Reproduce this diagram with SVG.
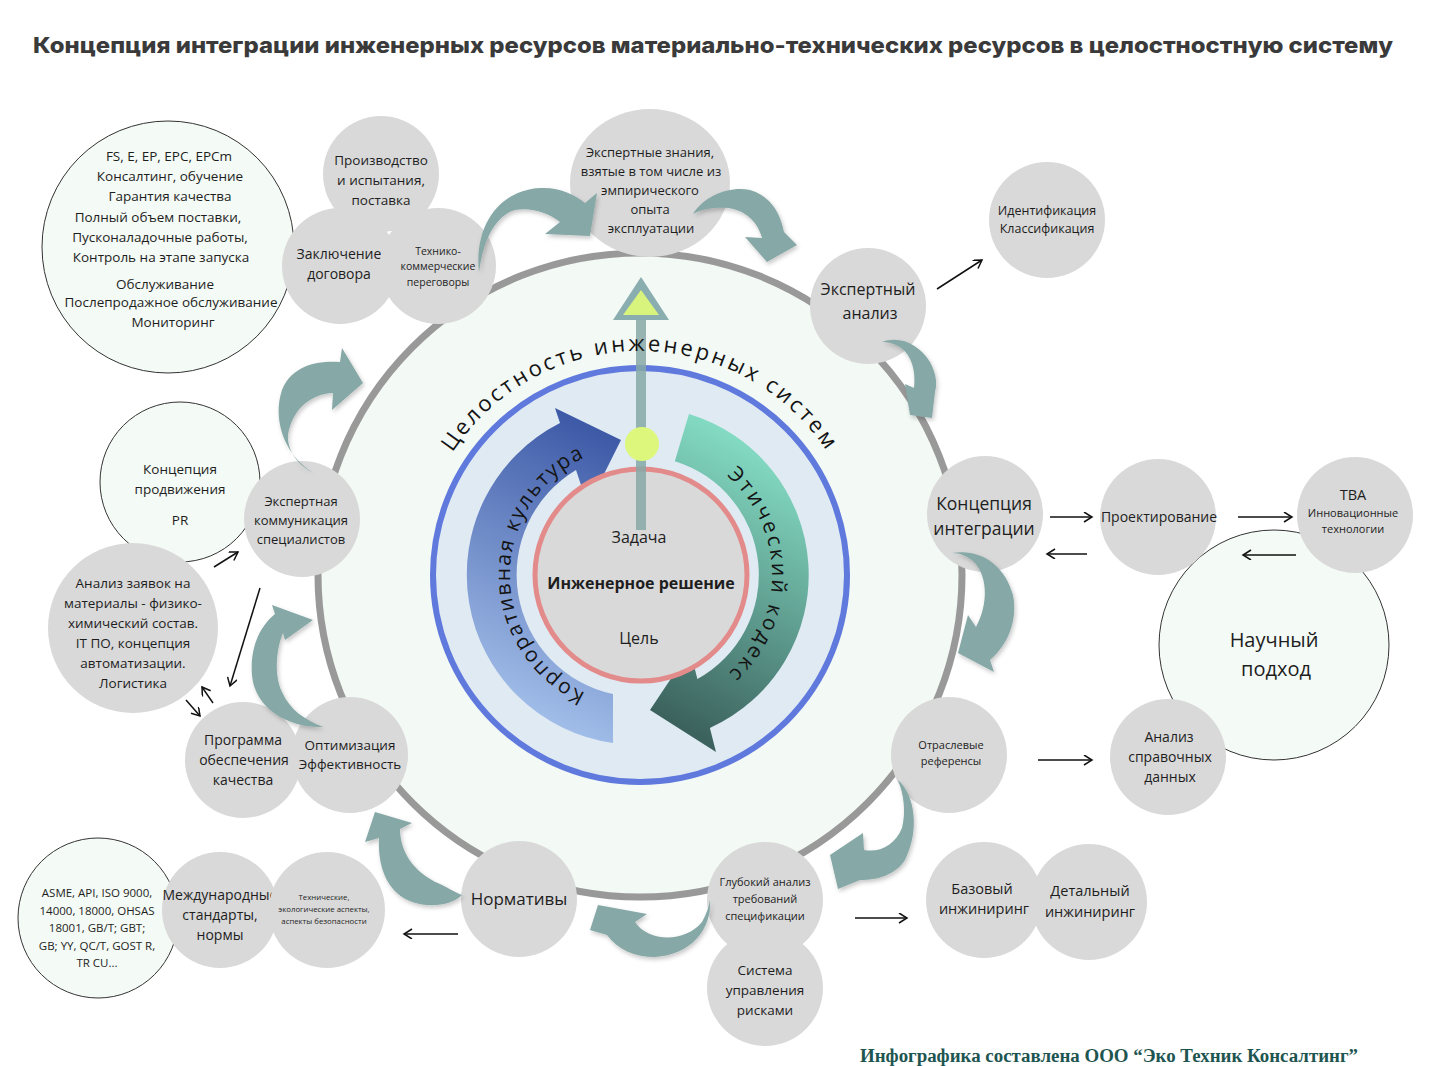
<svg xmlns="http://www.w3.org/2000/svg" width="1440" height="1066" viewBox="0 0 1440 1066">
<style>
.g{fill:#d9d9d9}
.o{fill:#f4faf5;stroke:#333;stroke-width:1}
.t{font-family:"Open Sans","Liberation Sans",sans-serif;fill:#1e1e1e;text-anchor:middle}
.teal{fill:#86a8a6;filter:url(#sh)}
.c{stroke:#111;stroke-width:1.5;fill:none;marker-end:url(#ah)}
.ct{font-family:"Open Sans","Liberation Sans",sans-serif;fill:#141414;font-size:21px;letter-spacing:1.8px}
</style>
<defs>
<marker id="ah" markerUnits="userSpaceOnUse" markerWidth="12" markerHeight="12" refX="9" refY="5" orient="auto"><path d="M1,0 L9,5 L1,10" fill="none" stroke="#111" stroke-width="1.5"/></marker>
<filter id="sh" x="-20%" y="-20%" width="140%" height="140%"><feDropShadow dx="1.5" dy="2.5" stdDeviation="2" flood-color="#000" flood-opacity="0.22"/></filter>
<linearGradient id="gb" gradientUnits="userSpaceOnUse" x1="480" y1="700" x2="610" y2="430"><stop offset="0" stop-color="#a4c0ea"/><stop offset="1" stop-color="#3c58a6"/></linearGradient>
<linearGradient id="gg" gradientUnits="userSpaceOnUse" x1="805" y1="470" x2="670" y2="720"><stop offset="0" stop-color="#84dcc4"/><stop offset="1" stop-color="#3c625e"/></linearGradient>
<path id="arcOuter" d="M419.4,536.1 A224,224 0 0 1 860.6,536.1"/>
<path id="arcKorp" d="M640,705 A130,130 0 0 1 640,445"/>
<path id="arcEth" d="M640,443 A132,132 0 0 1 640,707"/>
</defs>
<rect width="1440" height="1066" fill="#ffffff"/>
<text x="713" y="53" font-family="Inter,'Liberation Sans',sans-serif" font-weight="800" font-size="22" fill="#3a3a3a" text-anchor="middle" textLength="1360" lengthAdjust="spacingAndGlyphs">Концепция интеграции инженерных ресурсов материально-технических ресурсов в целостностную систему</text>

<g id="core">
<circle cx="640" cy="575" r="322" fill="#f3f9f4" stroke="#999" stroke-width="7"/>
<circle cx="640" cy="575" r="207" fill="#dfeaf3" stroke="#6079dd" stroke-width="6"/>
<path d="M613,743 A170,170 0 0 1 560,423 L555,408 L621,440 L588,506 L576,470 A122,122 0 0 0 613,694 Z" fill="url(#gb)"/>
<path d="M689,414 A168,168 0 0 1 709.9,728 L716,752 L650,710 L690,650 L697.4,679.1 A119,119 0 0 0 674.8,461.2 Z" fill="url(#gg)"/>
<circle cx="641" cy="575" r="106" fill="#d9d9d9" stroke="#e38b8b" stroke-width="5"/>
<rect x="636" y="318" width="10" height="212" fill="#86a8a6" opacity="0.85"/>
<path d="M641,277 L613,320 L669,320 Z" fill="#8aaeb0"/>
<path d="M641,290 L623,315 L659,315 Z" fill="#d9f47c"/>
<circle cx="642" cy="444" r="17" fill="#dcf77c"/>
<text class="ct" style="font-size:22px;letter-spacing:2.9px"><textPath href="#arcOuter" startOffset="50%" text-anchor="middle">Целостность инженерных систем</textPath></text>
<text class="ct"><textPath href="#arcKorp" startOffset="50%" text-anchor="middle">Корпоративная культура</textPath></text>
<text class="ct" style="letter-spacing:2.7px"><textPath href="#arcEth" startOffset="50%" text-anchor="middle">Этический кодекс</textPath></text>
<text class="t" x="639" y="543" font-size="16">Задача</text>
<text class="t" x="641" y="589" font-size="16" font-weight="700" fill="#3a3a3a">Инженерное решение</text>
<text class="t" x="639" y="644" font-size="16">Цель</text>
</g>

<g id="n-fs"><circle class="o" cx="168" cy="247" r="126"/>
<text class="t" font-size="13.5"><tspan x="169" y="161">FS, E, EP, EPC, EPCm</tspan><tspan x="170" y="181">Консалтинг, обучение</tspan><tspan x="170" y="201">Гарантия качества</tspan><tspan x="158" y="222">Полный объем поставки,</tspan><tspan x="160" y="242">Пусконаладочные работы,</tspan><tspan x="161" y="262">Контроль на этапе запуска</tspan><tspan x="165" y="289">Обслуживание</tspan><tspan x="171" y="307">Послепродажное обслуживание</tspan><tspan x="173" y="327">Мониторинг</tspan></text></g>
<g id="n-pr"><circle class="o" cx="180" cy="482" r="80"/>
<text class="t" font-size="13.5"><tspan x="180" y="474">Концепция</tspan><tspan x="180" y="494">продвижения</tspan><tspan x="180" y="525">PR</tspan></text></g>
<g id="n-asme"><circle class="o" cx="98" cy="918" r="80"/>
<text class="t" font-family="Inter,'Liberation Sans',sans-serif" font-size="11.5"><tspan x="97" y="897">ASME, API, ISO 9000,</tspan><tspan x="97" y="915">14000, 18000, OHSAS</tspan><tspan x="97" y="932">18001, GB/T; GBT;</tspan><tspan x="97" y="950">GB; YY, QC/T, GOST R,</tspan><tspan x="97" y="967">TR CU...</tspan></text></g>
<g id="n-sci"><circle class="o" cx="1274" cy="645" r="115"/>
<text class="t" font-size="20"><tspan x="1274" y="647">Научный</tspan><tspan x="1276" y="676">подход</tspan></text></g>

<g id="n-prod"><circle class="g" cx="381" cy="174" r="58"/>
<text class="t" font-size="13.5"><tspan x="381" y="165">Производство</tspan><tspan x="381" y="185">и испытания,</tspan><tspan x="381" y="205">поставка</tspan></text></g>
<g id="n-dog"><circle class="g" cx="340" cy="266" r="58"/>
<text class="t" font-size="14"><tspan x="339" y="259">Заключение</tspan><tspan x="339" y="279">договора</tspan></text></g>
<g id="n-tk"><circle class="g" cx="438" cy="266" r="58"/>
<text class="t" font-size="10.5"><tspan x="438" y="255">Технико-</tspan><tspan x="438" y="270">коммерческие</tspan><tspan x="438" y="286">переговоры</tspan></text></g>
<g id="n-exk"><ellipse class="g" cx="650" cy="183" rx="80" ry="74"/>
<text class="t" font-size="13"><tspan x="650" y="157">Экспертные знания,</tspan><tspan x="651" y="176">взятые в том числе из</tspan><tspan x="650" y="195">эмпирического</tspan><tspan x="650" y="214">опыта</tspan><tspan x="651" y="233">эксплуатации</tspan></text></g>
<g id="n-exa"><circle class="g" cx="868" cy="306" r="58"/>
<text class="t" font-size="16"><tspan x="868" y="295">Экспертный</tspan><tspan x="870" y="319">анализ</tspan></text></g>
<g id="n-id"><circle class="g" cx="1047" cy="220" r="58"/>
<text class="t" font-size="12.5"><tspan x="1047" y="215">Идентификация</tspan><tspan x="1047" y="233">Классификация</tspan></text></g>
<g id="n-ki"><circle class="g" cx="985" cy="514" r="58"/>
<text class="t" font-size="17.5"><tspan x="984" y="510">Концепция</tspan><tspan x="984" y="535">интеграции</tspan></text></g>
<g id="n-proj"><circle class="g" cx="1158" cy="517" r="58"/>
<text class="t" x="1159" y="522" font-size="14">Проектирование</text></g>
<g id="n-tva"><circle class="g" cx="1355" cy="515" r="58"/>
<text class="t"><tspan x="1353" y="500" font-size="14.5">ТВА</tspan><tspan x="1353" y="517" font-size="11">Инновационные</tspan><tspan x="1353" y="533" font-size="11">технологии</tspan></text></g>
<g id="n-otr"><circle class="g" cx="949" cy="755" r="58"/>
<text class="t" font-size="11"><tspan x="951" y="749">Отраслевые</tspan><tspan x="951" y="765">референсы</tspan></text></g>
<g id="n-asd"><circle class="g" cx="1168" cy="757" r="58"/>
<text class="t" font-size="14"><tspan x="1169" y="742">Анализ</tspan><tspan x="1170" y="762">справочных</tspan><tspan x="1170" y="782">данных</tspan></text></g>
<g id="n-gl"><circle class="g" cx="765" cy="900" r="58"/>
<text class="t" font-size="11"><tspan x="765" y="886">Глубокий анализ</tspan><tspan x="765" y="903">требований</tspan><tspan x="765" y="920">спецификации</tspan></text></g>
<g id="n-sur"><circle class="g" cx="765" cy="988" r="58"/>
<text class="t" font-size="13.5"><tspan x="765" y="975">Система</tspan><tspan x="765" y="995">управления</tspan><tspan x="765" y="1015">рисками</tspan></text></g>
<g id="n-baz"><circle class="g" cx="984" cy="900" r="58"/>
<text class="t" font-size="14.5"><tspan x="982" y="894">Базовый</tspan><tspan x="984" y="914">инжиниринг</tspan></text></g>
<g id="n-det"><circle class="g" cx="1089" cy="902" r="58"/>
<text class="t" font-size="14.5"><tspan x="1090" y="896">Детальный</tspan><tspan x="1090" y="917">инжиниринг</tspan></text></g>
<g id="n-norm"><circle class="g" cx="519" cy="899" r="58"/>
<text class="t" x="519" y="905" font-size="17">Нормативы</text></g>
<g id="n-mezh"><circle class="g" cx="220" cy="910" r="58"/>
<text class="t" font-size="14"><tspan x="220" y="900">Международные</tspan><tspan x="220" y="920">стандарты,</tspan><tspan x="220" y="940">нормы</tspan></text></g>
<g id="n-teh"><circle class="g" cx="327" cy="910" r="58"/>
<text class="t" font-size="7.8"><tspan x="324" y="900">Технические,</tspan><tspan x="324" y="912">экологические аспекты,</tspan><tspan x="324" y="924">аспекты безопасности</tspan></text></g>
<g id="n-az"><circle class="g" cx="133" cy="628" r="85"/>
<text class="t" font-size="13.5"><tspan x="133" y="588">Анализ заявок на</tspan><tspan x="133" y="608">материалы - физико-</tspan><tspan x="133" y="628">химический состав.</tspan><tspan x="133" y="648">IT ПО, концепция</tspan><tspan x="133" y="668">автоматизации.</tspan><tspan x="133" y="688">Логистика</tspan></text></g>
<g id="n-ek"><circle class="g" cx="302" cy="519" r="58"/>
<text class="t" font-size="13"><tspan x="301" y="506">Экспертная</tspan><tspan x="301" y="525">коммуникация</tspan><tspan x="301" y="544">специалистов</tspan></text></g>
<g id="n-pok"><circle class="g" cx="243" cy="760" r="58"/>
<text class="t" font-size="14"><tspan x="243" y="745">Программа</tspan><tspan x="244" y="765">обеспечения</tspan><tspan x="243" y="785">качества</tspan></text></g>
<g id="n-opt"><circle class="g" cx="350" cy="755" r="58"/>
<text class="t" font-size="13.5"><tspan x="350" y="750">Оптимизация</tspan><tspan x="350" y="769">Эффективность</tspan></text></g>

<g id="cycle-arrows">
<path class="teal" d="M479,272 C474,225 500,190 540,188 C560,187 575,195 585,203 L597,193 L590,236 L545,234 L560,222 C548,212 530,207 515,210 C498,215 484,235 479,272 Z"/>
<path class="teal" d="M693,214 C705,195 730,186 750,190 C768,195 780,210 784,232 L797,245 L767,262 L745,237 L762,238 C758,222 745,210 728,208 C712,207 700,210 693,214 Z"/>
<path class="teal" d="M882,342 C900,335 920,345 930,362 C937,375 937,385 935,392 L932,418 L910,415 L905,384 L914,388 C916,372 912,355 900,347 C893,343 887,342 882,342 Z"/>
<path class="teal" d="M952,553 C980,548 1005,565 1013,595 C1018,620 1008,645 990,660 L994,672 L958,653 L968,615 L976,627 C988,605 988,578 975,563 C968,556 960,553 952,553 Z"/>
<path class="teal" d="M898,780 C915,795 920,830 905,860 C895,875 878,880 860,880 L838,889 L830,855 L863,833 L864,850 C880,853 895,845 902,828 C906,812 904,795 898,780 Z"/>
<path class="teal" d="M710,900 C712,930 690,955 655,957 C635,957 618,950 607,935 L590,930 L598,905 L647,914 L635,922 C648,942 685,943 702,922 C706,915 709,907 710,900 Z"/>
<path class="teal" d="M462,895 C450,908 415,910 397,893 C383,880 378,860 379,838 L365,842 L375,812 L412,823 L400,829 C400,850 412,872 440,884 C450,889 457,893 462,895 Z"/>
<path class="teal" d="M323,727 C290,728 255,710 252,675 C250,650 258,628 275,614 L272,605 L313,620 L285,640 L283,633 C276,650 274,675 282,692 C290,710 305,720 323,727 Z"/>
<path class="teal" d="M312,472 C285,455 272,420 282,390 C290,370 310,360 340,362 L342,348 L363,383 L332,410 L333,393 C310,394 292,410 288,435 C287,450 298,465 312,472 Z"/>
</g>

<g id="connectors">
<line class="c" x1="937" y1="289" x2="982" y2="260"/>
<line class="c" x1="1050" y1="517" x2="1092" y2="517"/>
<line class="c" x1="1087" y1="554" x2="1047" y2="554"/>
<line class="c" x1="1238" y1="517" x2="1292" y2="517"/>
<line class="c" x1="1296" y1="555" x2="1243" y2="555"/>
<line class="c" x1="1038" y1="760" x2="1092" y2="760"/>
<line class="c" x1="855" y1="918" x2="907" y2="918"/>
<line class="c" x1="458" y1="934" x2="404" y2="934"/>
<line class="c" x1="214" y1="567" x2="238" y2="552"/>
<line class="c" x1="260" y1="588" x2="230" y2="686"/>
<line class="c" x1="186" y1="700" x2="200" y2="716"/>
<line class="c" x1="213" y1="703" x2="202" y2="687"/>
</g>

<text x="1109" y="1062" font-family="'Liberation Serif','Times New Roman',serif" font-weight="700" font-size="18" fill="#1e5550" text-anchor="middle" textLength="498" lengthAdjust="spacingAndGlyphs">Инфографика составлена ООО “Эко Техник Консалтинг”</text>
</svg>
